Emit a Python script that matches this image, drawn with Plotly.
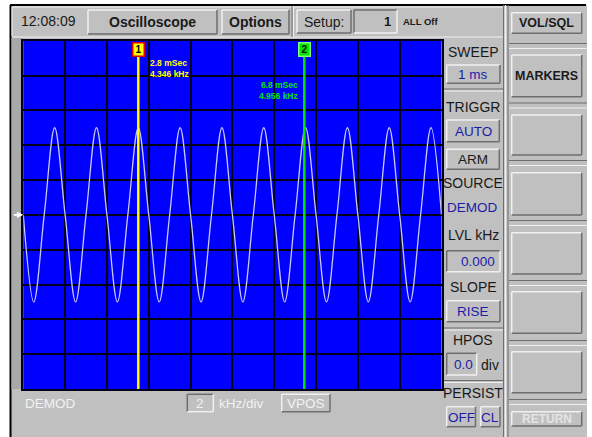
import plotly.graph_objects as go

W, H = 592, 437

# ---------------- data ----------------
sweep_label = "1 ms"          # ms / div
vscale_label = "2"            # kHz / div
x_range_ms = [0, 10]
y_range_khz = [-10, 10]

wave_time_ms = [0.0, 0.25, 0.5, 0.75, 1.0, 1.25, 1.5, 1.75, 2.0, 2.25, 2.5, 2.75,
                3.0, 3.25, 3.5, 3.75, 4.0, 4.25, 4.5, 4.75, 5.0, 5.25, 5.5, 5.75,
                6.0, 6.25, 6.5, 6.75, 7.0, 7.25, 7.5, 7.75, 8.0, 8.25, 8.5, 8.75,
                9.0, 9.25, 9.5, 9.75, 10.0]
wave_khz = [0, -5, 0, 5, 0, -5, 0, 5, 0, -5, 0, 5,
            0, -5, 0, 5, 0, -5, 0, 5, 0, -5, 0, 5,
            0, -5, 0, 5, 0, -5, 0, 5, 0, -5, 0, 5,
            0, -5, 0, 5, 0]

marker_ids = ["1", "2"]
marker_time_ms = [2.75, 6.72]
marker_text = ["2.8 mSec<br>4.346 kHz", "6.8 mSec<br>4.956 kHz"]
marker_color = ["#ffff00", "#00e600"]
marker_box_border = ["#e00000", "#80ff80"]

side_buttons = ["VOL/SQL", "MARKERS", "", "", "", "", "", "RETURN"]

# ---------------- helpers ----------------
GRAY = "#c0c0c0"
LIGHT = "#f0f0f0"
DARK = "#6e6e6e"
BLUE_TXT = "#1c1ca8"
TXT = "#1a1a1a"

shapes = []
annotations = []


def px(x):
    return x / W


def py(y):
    return 1 - y / H


def rect(x0, y0, x1, y1, fill, layer="below"):
    shapes.append(dict(type="rect", xref="paper", yref="paper",
                       x0=px(x0), x1=px(x1), y0=py(y1), y1=py(y0),
                       fillcolor=fill, line=dict(width=0), layer=layer))


def line(x0, y0, x1, y1, color, width=1.0, layer="below"):
    shapes.append(dict(type="line", xref="paper", yref="paper",
                       x0=px(x0), x1=px(x1), y0=py(y0), y1=py(y1),
                       line=dict(color=color, width=width), layer=layer))


def button(x0, y0, x1, y1, sunken=False, w=1.5):
    tl, br = (DARK, LIGHT) if sunken else (LIGHT, DARK)
    rect(x0, y0, x1, y1, GRAY)
    line(x0, y0, x1, y0, tl, w)
    line(x0, y0, x0, y1, tl, w)
    line(x0, y1, x1, y1, br, w)
    line(x1, y0, x1, y1, br, w)


def text(cx, cy, s, size=13, color=TXT, bold=False, anchor="center", family="Liberation Sans"):
    annotations.append(dict(xref="paper", yref="paper", x=px(cx), y=py(cy),
                            text=f"<b>{s}</b>" if bold else s, showarrow=False,
                            xanchor=anchor, yanchor="middle",
                            font=dict(size=size, color=color, family=family)))


# ---------------- chrome ----------------
rect(10, 5, 587, H, GRAY)
line(10, 5, 586, 5, "#000000", 2)
line(10.5, 5, 10.5, H, "#000000", 2)

# top bar
line(12, 7, 503, 7, LIGHT, 1)
line(12, 7, 12, 36, LIGHT, 1)
line(12, 37, 503, 37, LIGHT, 1)
text(48, 21, "12:08:09", 14, TXT)
button(88, 10, 217, 34)
text(152.5, 21.5, "Oscilloscope", 14, TXT, bold=True)
button(222, 10, 289, 34)
text(255.5, 21.5, "Options", 14, TXT, bold=True)
line(292, 6, 292, 37, DARK, 1)
line(293.5, 6, 293.5, 37, LIGHT, 1)
button(297, 10, 351, 33)
text(324, 21.5, "Setup:", 14, TXT)
button(354, 10, 397, 33, sunken=True)
text(393, 21.5, "1", 13, TXT, bold=True, anchor="right")
text(401, 21.5, "ALL Off", 9.5, TXT, bold=True, anchor="left")

# left rail
rect(11.5, 38, 23, 389, "#a9a9a9")

# plot area background
rect(23.3, 40.7, 441.5, 389, "#0000ff")

# column dividers
line(503.5, 5, 503.5, H, DARK, 1)
line(505.5, 5, 505.5, H, LIGHT, 1.5)
line(508, 5, 508, H, DARK, 1)

# right column buttons
btn_rows = [(12.7, 33.3), (55, 96.7), (115, 155), (172.7, 215), (232.7, 274),
            (291.7, 333.3), (351.7, 392.7), (411.7, 426)]
for (y0, y1), lab in zip(btn_rows, side_buttons):
    button(511.7, y0, 581.7, y1)
    if lab == "RETURN":
        text(546.7, (y0 + y1) / 2, lab, 12, "#e4e4e4", bold=True)
    elif lab:
        text(546.7, (y0 + y1) / 2 + 0.5, lab, 12.5, TXT, bold=True)
for ysep in [46, 105.5, 163, 223, 283, 343, 402]:
    line(509, ysep - 2.5, 587, ysep - 2.5, DARK, 1)
    line(509, ysep + 2.5, 587, ysep + 2.5, LIGHT, 1)

# right settings panel
for ysep in [90, 329, 381.5]:
    line(443, ysep - 1, 503, ysep - 1, DARK, 1)
    line(443, ysep + 1, 503, ysep + 1, LIGHT, 1)
text(473, 51.7, "SWEEP", 14)
button(446.7, 65, 500, 83.3)
text(473.3, 74.5, sweep_label, 13.5, BLUE_TXT)
text(473, 106.7, "TRIGGR", 14)
button(446.7, 120, 499.3, 141.7)
text(473, 131, "AUTO", 13.5, BLUE_TXT)
button(446.7, 149.3, 499.3, 169.3)
text(473, 159.5, "ARM", 13.5)
text(473, 183.3, "SOURCE", 14)
text(472, 207.3, "DEMOD", 13.5, BLUE_TXT)
text(473, 235, "LVL kHz", 14)
button(446.7, 250.7, 500, 271.7, sunken=True)
text(497, 261.5, "0.000", 13.5, BLUE_TXT, anchor="right")
text(473, 286.7, "SLOPE", 14)
button(446.7, 300.7, 500, 321.7)
text(473.3, 311.5, "RISE", 13.5, BLUE_TXT)
text(473, 340, "HPOS", 14)
button(446.7, 353.3, 476.7, 375, sunken=True)
text(474.5, 364.5, "0.0", 13.5, BLUE_TXT, anchor="right")
text(490, 364.5, "div", 14)
text(473.5, 393.3, "PERSIST", 14)
button(446.7, 406.7, 475.5, 426.7)
text(461, 417, "OFF", 13.5, BLUE_TXT)
button(480.7, 406.7, 500, 426.7)
text(490.3, 417, "CL", 13.5, BLUE_TXT)

# bottom status
text(50, 403.5, "DEMOD", 13.5, "#f2f2f2")
button(187.3, 394.3, 213.3, 411.7, sunken=True)
text(200.3, 403.5, vscale_label, 13.5, "#f2f2f2")
text(241, 403.5, "kHz/div", 13.5, "#f2f2f2")
button(281.7, 394.3, 330, 411.7)
text(305.8, 403.5, "VPOS", 13.5, "#f2f2f2")

# ---------------- figure ----------------
fig = go.Figure()
fig.add_trace(go.Scatter(x=wave_time_ms, y=wave_khz, mode="lines",
                         line=dict(color="#c8c8ff", width=1.3, shape="spline", smoothing=1.0),
                         hoverinfo="skip", showlegend=False))

plot_top = py(40.7)
for mid, t, lab, col, bcol in zip(marker_ids, marker_time_ms, marker_text, marker_color, marker_box_border):
    shapes.append(dict(type="line", xref="x", yref="paper", x0=t, x1=t,
                       y0=py(389), y1=py(56), line=dict(color=col, width=2.5), layer="above"))
    annotations.append(dict(xref="x", yref="paper", x=t, y=plot_top - 0.002, text=f"<b>{mid}</b>",
                            showarrow=False, xanchor="center", yanchor="top",
                            bgcolor=col, bordercolor=bcol, borderwidth=1.5, borderpad=0,
                            width=10, height=12,
                            font=dict(size=10, color="#000000", family="Liberation Sans")))

annotations.append(dict(xref="x", yref="paper", x=marker_time_ms[0], y=py(68.5), xshift=10,
                        text=f"<b>{marker_text[0]}</b>", showarrow=False, xanchor="left",
                        yanchor="middle", align="left",
                        font=dict(size=8.5, color=marker_color[0], family="Liberation Sans")))
annotations.append(dict(xref="x", yref="paper", x=marker_time_ms[1], y=py(90.5), xshift=-4,
                        text=f"<b>{marker_text[1]}</b>", showarrow=False, xanchor="right",
                        yanchor="middle", align="right",
                        font=dict(size=8.5, color=marker_color[1], family="Liberation Sans")))

# trigger level arrow on the left rail
annotations.append(dict(xref="x", yref="y", x=0, y=0, ax=-11, ay=0, text="",
                        showarrow=True, arrowhead=2, arrowsize=0.8, arrowwidth=1.6,
                        arrowcolor="#ffffff"))

axis_common = dict(showgrid=True, gridcolor="#00001a", gridwidth=1.6, zeroline=False,
                   showticklabels=False, ticks="", showline=True, linecolor="#00001a",
                   linewidth=1.5, mirror=True, fixedrange=True)

fig.update_layout(
    width=W, height=H,
    margin=dict(l=0, r=0, t=0, b=0),
    paper_bgcolor="#ffffff",
    plot_bgcolor="rgba(0,0,0,0)",
    xaxis=dict(domain=[px(23.3), px(441.5)], range=x_range_ms, dtick=1, **axis_common),
    yaxis=dict(domain=[py(389), py(40.7)], range=y_range_khz, dtick=2, **axis_common),
    shapes=shapes,
    annotations=annotations,
    showlegend=False,
)

fig.write_html("out.html", config={"displayModeBar": False},
               post_script="document.body.style.margin='0';document.body.style.overflow='hidden';")
